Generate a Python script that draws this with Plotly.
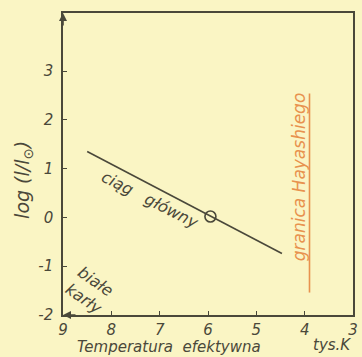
import plotly.graph_objects as go

# Data
ms_temp = [8.5, 4.47]          # main sequence (thousand K)
ms_logL = [1.35, -0.74]
sun_temp = [5.95]
sun_logL = [0.02]
hay_temp = [3.9, 3.9]
hay_logL = [2.54, -1.54]
x_ticks = [9, 8, 7, 6, 5, 4, 3]
x_labels = ["9", "8", "7", "6", "5", "4", "3"]
y_ticks = [-2, -1, 0, 1, 2, 3]
y_labels = ["-2", "-1", "0", "1", "2", "3"]

BG = "#FAF5C4"
INK = "#4A483A"
ORANGE = "#E8924E"
FONT = "DejaVu Sans"

fig = go.Figure()
fig.add_trace(go.Scatter(x=ms_temp, y=ms_logL, mode="lines",
                         line=dict(color=INK, width=1.6), showlegend=False))
fig.add_trace(go.Scatter(x=sun_temp, y=sun_logL, mode="markers",
                         marker=dict(symbol="circle-open", size=11,
                                     color=INK, line=dict(width=1.6)),
                         showlegend=False))
fig.add_trace(go.Scatter(x=hay_temp, y=hay_logL, mode="lines",
                         line=dict(color=ORANGE, width=1.6), showlegend=False))

tickfont = dict(family=FONT, size=15, color=INK, style="italic")
fig.update_xaxes(range=[9, 3], tickvals=x_ticks, ticktext=x_labels,
                 ticks="inside", ticklen=4, ticklabelstandoff=0,
                 tickcolor=INK, showline=True, linecolor=INK, linewidth=1.6,
                 mirror=True, showgrid=False, zeroline=False, tickfont=tickfont)
fig.update_yaxes(range=[-2, 4.19], tickvals=y_ticks, ticktext=y_labels,
                 ticks="inside", ticklen=4,
                 tickcolor=INK, showline=True, linecolor=INK, linewidth=1.6,
                 mirror=True, showgrid=False, zeroline=False, tickfont=tickfont,
                 ticklabelstandoff=5)

def f(size, color=INK):
    return dict(family=FONT, size=size, color=color, style="italic")

fig.add_annotation(x=7.21, y=0.37, text="ciąg   główny", textangle=27,
                   showarrow=False, font=f(16))
fig.add_annotation(x=8.45, y=-1.48, text="białe<br>karły", textangle=35,
                   showarrow=False, font=f(16))
fig.add_annotation(x=4.1, y=0.84, text="granica Hayashiego", textangle=-90,
                   showarrow=False, font=f(17, ORANGE))
fig.add_annotation(xref="paper", x=-0.136, y=0.76, xanchor="center",
                   yanchor="middle", text="log (l/l<sub>⊙</sub>)",
                   textangle=-90, showarrow=False, font=f(19))
fig.add_annotation(xref="x", yref="paper", x=6.80, y=-0.105,
                   xanchor="center", yanchor="middle",
                   text="Temperatura  efektywna", showarrow=False, font=f(15))
fig.add_annotation(xref="x", yref="paper", x=3.43, y=-0.10,
                   xanchor="center", yanchor="middle",
                   text="tys.K", showarrow=False, font=f(15))
# axis arrowheads
fig.add_annotation(x=9, y=4.19, ax=0, ay=14, showarrow=True, arrowhead=2,
                   arrowsize=1, arrowwidth=1.6, arrowcolor=INK, text="")
fig.add_annotation(x=9, y=-2, ax=14, ay=0, showarrow=True, arrowhead=2,
                   arrowsize=1, arrowwidth=1.6, arrowcolor=INK, text="")

fig.update_layout(width=362, height=357,
                  margin=dict(l=63, r=4, t=13, b=42),
                  paper_bgcolor=BG, plot_bgcolor=BG)
fig.write_html("out.html", config={"displayModeBar": False},
               post_script="document.body.style.margin='0';"
                           "document.body.style.background='" + BG + "';")
